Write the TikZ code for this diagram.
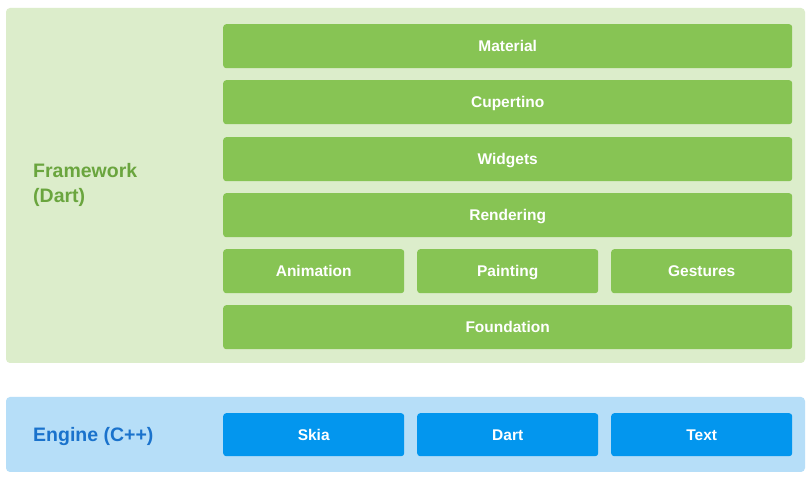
\documentclass[tikz,border=0pt]{standalone}
\usepackage{fontspec}
\setmainfont{Liberation Sans}
\definecolor{fwbg}{HTML}{DCEDCB}
\definecolor{fwbox}{HTML}{87C454}
\definecolor{fwtxt}{HTML}{6AA53E}
\definecolor{enbg}{HTML}{B6DEF8}
\definecolor{enbox}{HTML}{0396EE}
\definecolor{entxt}{HTML}{1A72CC}
\tikzset{
  lbox/.style={rounded corners=3pt, inner sep=0pt, text height=11.2pt, text depth=0pt,
    font=\fontsize{15.5}{18}\selectfont\bfseries, text=white},
  fwb/.style={lbox, fill=fwbox},
  enb/.style={lbox, fill=enbox},
}
\begin{document}
\begin{tikzpicture}[x=1pt,y=-1pt]
\useasboundingbox[fill=white] (0,0) rectangle (812,478);
% layers
\fill[fwbg, rounded corners=4pt] (6,8) rectangle (805,363);
\fill[enbg, rounded corners=4pt] (6,397) rectangle (805,472);
% framework boxes
\node[fwb, minimum width=569pt, minimum height=44pt, anchor=north west] (material) at (223,24) {Material};
\node[fwb, minimum width=569pt, minimum height=44pt, anchor=north west] (cupertino) at (223,80) {Cupertino};
\node[fwb, minimum width=569pt, minimum height=44pt, anchor=north west] (widgets) at (223,137) {Widgets};
\node[fwb, minimum width=569pt, minimum height=44pt, anchor=north west] (rendering) at (223,193) {Rendering};
\node[fwb, minimum width=181pt, minimum height=44pt, anchor=north west] (animation) at (223,249) {Animation};
\node[fwb, minimum width=181pt, minimum height=44pt, anchor=north west] (painting) at (417,249) {Painting};
\node[fwb, minimum width=181pt, minimum height=44pt, anchor=north west] (gestures) at (611,249) {Gestures};
\node[fwb, minimum width=569pt, minimum height=44pt, anchor=north west] (foundation) at (223,305) {Foundation};
% engine boxes
\node[enb, minimum width=181pt, minimum height=43pt, anchor=north west] (skia) at (223,413) {Skia};
\node[enb, minimum width=181pt, minimum height=43pt, anchor=north west] (dart) at (417,413) {Dart};
\node[enb, minimum width=181pt, minimum height=43pt, anchor=north west] (text) at (611,413) {Text};
% labels
\node[anchor=base west, align=left, inner sep=0pt, text=fwtxt, font=\fontsize{19.5}{25}\selectfont\bfseries] (fwlabel) at (33,203) {Framework\\(Dart)};
\node[anchor=base west, inner sep=0pt, text=entxt, font=\fontsize{19.5}{24}\selectfont\bfseries] (enlabel) at (33,442) {Engine (C++)};
\end{tikzpicture}
\end{document}
